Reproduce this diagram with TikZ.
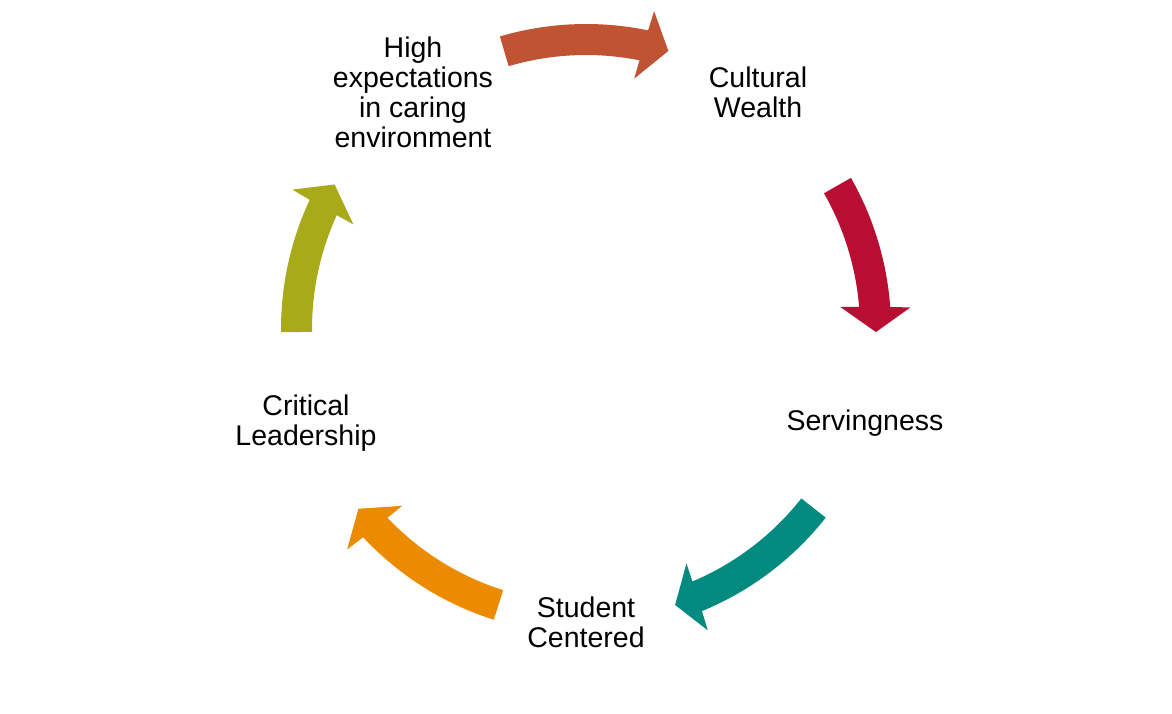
\documentclass[tikz,border=0pt]{standalone}
\usepackage{fontspec}
\setmainfont{Liberation Sans}
\definecolor{crust}{RGB}{192,83,50}
\definecolor{cred}{RGB}{184,14,50}
\definecolor{cteal}{RGB}{0,138,128}
\definecolor{corange}{RGB}{237,139,0}
\definecolor{colive}{RGB}{168,170,26}
\tikzset{
  lbl/.style={align=center, inner sep=0pt, font=\fontsize{28.5}{30}\selectfont, text=black},
}
% arrow: #1 start angle, #2 head base angle, #3 tip angle
\newcommand{\cyclearrow}[4]{%
  \fill[#4] (#1:305pt) arc[start angle=#1, end angle={#2-0.25}, radius=305pt]
    -- ({#2-0.6}:325pt) -- (#3:290pt) -- ({#2+0.6}:255pt)
    -- ({#2+0.25}:274pt) arc[start angle={#2+0.25}, end angle=#1, radius=274pt] -- cycle;}
\begin{document}
\begin{tikzpicture}[x=1pt,y=1pt]
\useasboundingbox (0,0) rectangle (1172,-713);
\fill[white] (0,0) rectangle (1172,-713);
\node[lbl] (high) at (413,-92) {High\\expectations\\in caring\\environment};
\node[lbl] (cult) at (758,-92) {Cultural\\Wealth};
\node[lbl] (serv) at (865,-423) {Servingness};
\node[lbl] (stud) at (586,-622) {Student\\Centered};
\node[lbl] (crit) at (306,-423) {Critical\\Leadership};
\begin{scope}[shift={(586,-329)}]
\cyclearrow{106.4}{78.5}{73.5}{crust}
\cyclearrow{29.7}{4.4}{-0.6}{cred}
\cyclearrow{-38.2}{-67.4}{-72.1}{cteal}
\cyclearrow{252.4}{223.3}{218.3}{corange}
\cyclearrow{180.6}{155.2}{150.1}{colive}
\end{scope}
\end{tikzpicture}
\end{document}
